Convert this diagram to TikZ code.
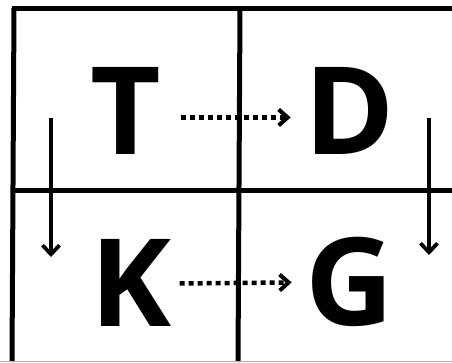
\documentclass[tikz,border=0pt]{standalone}
\usepackage{fontspec}
\newfontfamily\letterfont{Open Sans}
\usetikzlibrary{arrows.meta}
\begin{document}
\begin{tikzpicture}[x=1pt,y=-1pt,
  grid/.style={line width=5pt,black},
  letter/.style={inner sep=0pt,anchor=base,font=\letterfont\bfseries\fontsize{122}{122}\selectfont},
  dotarrow/.style={line width=4.5pt,dash pattern=on 5pt off 4pt,-{Straight Barb[length=9pt,width=16pt,line width=4pt]}},
  downarrow/.style={line width=3.5pt,-{Straight Barb[length=9pt,width=17pt,line width=3.8pt]}}]
\useasboundingbox (0,0) rectangle (452,362);
\fill[white] (0,0) rectangle (452,362);
% grid
\draw[grid] (12,8) -- (452,8);
\draw[grid] (14,8) -- (12,362);
\draw[grid] (14,190) -- (452,190);
\draw[grid] (240,8) -- (238,362);
\draw[gray!60,line width=1pt] (0,361.5) -- (452,361.5);
% letters
\node[letter] (T) at (126,154) {T};
\node[letter] (D) at (350,154) {D};
\node[letter] (K) at (131,326) {K};
\node[letter] (G) at (350,325) {G};
% dotted arrows
\draw[dotarrow] ([xshift=19pt,yshift=-7pt]T.east) -- ([xshift=-14pt,yshift=-7pt]D.west);
\draw[dotarrow] ([xshift=8pt,yshift=-1pt]K.east) -- ([xshift=-14pt,yshift=-1pt]G.west);
% down arrows
\coordinate (L1) at (51,118);
\coordinate (L2) at (51,257);
\coordinate (R1) at (429,118);
\coordinate (R2) at (429,255);
\draw[downarrow] (L1) -- (L2);
\draw[downarrow] (R1) -- (R2);
\end{tikzpicture}
\end{document}
